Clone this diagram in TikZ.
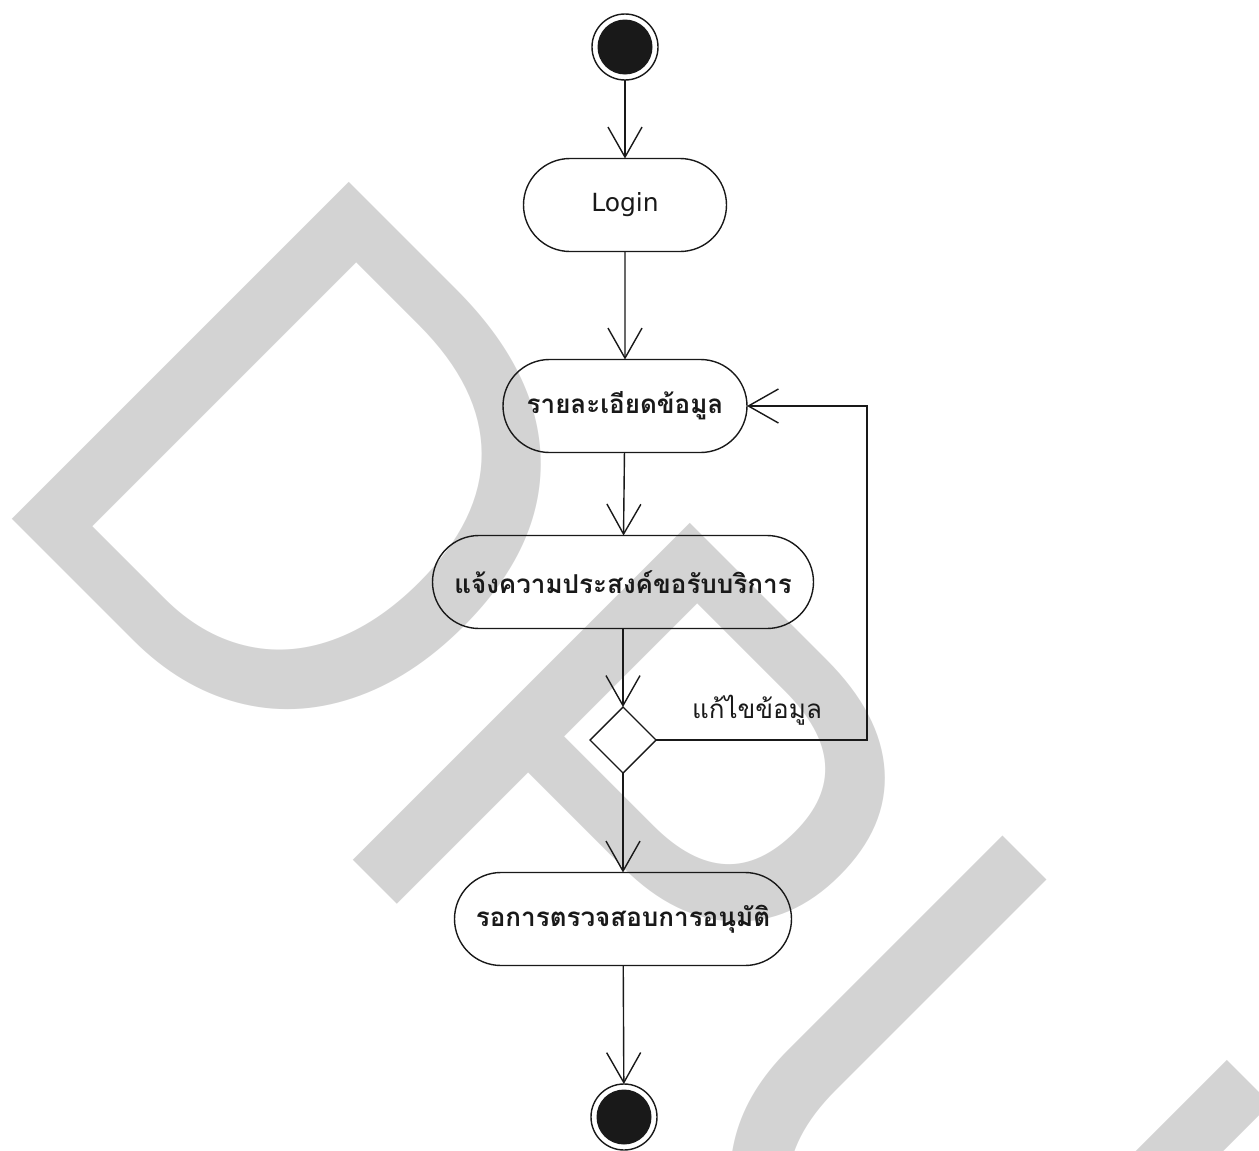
\documentclass[tikz,border=0pt]{standalone}
\usepackage{fontspec}
\usetikzlibrary{shapes.misc,shapes.geometric,arrows.meta}
\newfontfamily\thaifont[Script=Thai]{Loma}
\newfontfamily\latinfont{DejaVu Sans}
\newfontfamily\markfont{Liberation Sans}
\definecolor{wmgray}{RGB}{211,211,211}
\definecolor{ink}{RGB}{25,25,25}

\begin{document}
\begin{tikzpicture}[x=1pt,y=-1pt,
  every node/.style={inner sep=0pt, outer sep=0pt},
  act/.style={rounded rectangle, draw=ink, line width=1.4pt, minimum height=93pt},
  thaibold/.style={font=\thaifont\bfseries\fontsize{26pt}{30pt}\selectfont, text=ink},
  flow/.style={draw=ink, line width=1.4pt,
    -{Straight Barb[length=30pt,width=34pt,line width=1.4pt]}},
  dot/.style={circle, draw=ink, line width=1.4pt, minimum size=66pt,
    path picture={\fill[ink] (path picture bounding box.center) circle (27.5pt);}}
]
\useasboundingbox (0,0) rectangle (1259,1151);

% watermark lettering behind the chart
\begin{scope}
  \clip (0,0) rectangle (1259,1151);
  \node[rotate=-45, anchor=base west, text=wmgray,
        font=\markfont\fontsize{668pt}{668pt}\selectfont] (wm) at (-26.5,480.5)
        {\scalebox{1}[1.037]{DPU}};
\end{scope}

% activity nodes
\node[dot] (start) at (625,47) {};
\node[act, minimum width=203pt, font=\latinfont\fontsize{25pt}{30pt}\selectfont, text=ink]
  (login) at (625,205) {Login};
\node[act, minimum width=244pt, thaibold] (detail) at (625,406) {รายละเอียดข้อมูล};
\node[act, minimum width=381pt, thaibold] (request) at (623,582) {แจ้งความประสงค์ขอรับบริการ};
\node[diamond, draw=ink, line width=1.4pt, minimum width=66pt, minimum height=66pt, aspect=1]
  (dec) at (623,740) {};
\node[act, minimum width=337pt, thaibold] (wait) at (623,919) {รอการตรวจสอบการอนุมัติ};
\node[dot] (stop) at (624,1117) {};

\coordinate (loop) at (867,570);
\node[font=\thaifont\fontsize{26pt}{30pt}\selectfont, text=ink] (lbl) at (757,710) {แก้ไขข้อมูล};

% transitions
\draw[flow] (start) -- (login);
\draw[flow] (login) -- (detail);
\draw[flow] (detail) -- (request);
\draw[flow] (request.south) -- (dec.north);
\draw[flow] (dec.south) -- (wait.north);
\draw[flow] (wait) -- (stop);
\draw[flow] (dec.east) -| (loop) |- (detail.east);
\end{tikzpicture}
\end{document}
